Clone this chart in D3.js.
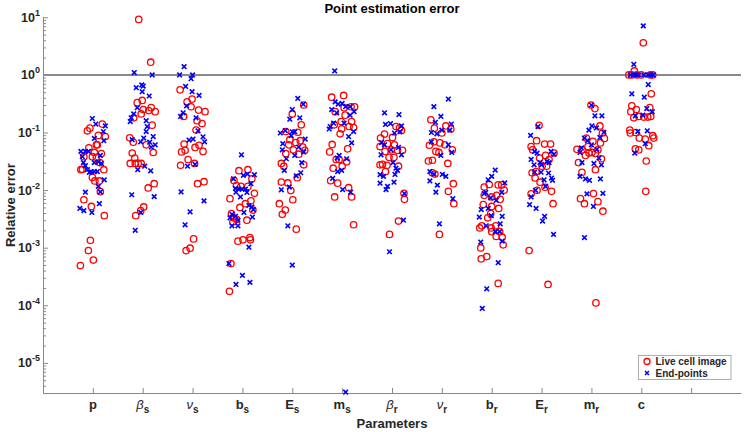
<!DOCTYPE html>
<html><head><meta charset="utf-8">
<script src="https://cdn.jsdelivr.net/npm/d3@7"></script>
<style>body{margin:0;background:#fff} svg{font-family:"Liberation Sans",Arial,sans-serif}</style>
</head><body><svg id="c" width="744" height="432"></svg>
<script>
// ---------- DATA ----------
const categories = ["p","βs","νs","bs","Es","ms","βr","νr","br","Er","mr","c",""];
const tickMain = ["p","β","ν","b","E","m","β","ν","b","E","m","c",""];
const tickSub  = ["","s","s","s","s","s","r","r","r","r","r","",""];
const yMajorTicks = [1e-5,1e-4,1e-3,1e-2,1e-1,1e0,1e1];
const yTickExp = ["-5","-4","-3","-2","-1","0","1"];
const refLine = 1;
const seriesNames = ["Live cell image","End-points"];
// each category: [jitter (category units), relative error]
const liveCell = [
 [[-0.06,0.119],[-0.11,0.107],[0.19,0.14],[0.25,0.085],[0.11,0.089],[-0.08,0.054],[0.07,0.061],[0.09,0.061],[0.17,0.043],[0.03,0.045],[-0.18,0.038],[-0.01,0.038],[0.07,0.037],[0.14,0.030],[-0.24,0.0226],[-0.21,0.023],[0.22,0.0226],[-0.01,0.0166],[0.04,0.0144],[0.13,0.0144],[0.15,0.0094],[-0.18,0.0068],[-0.03,0.0052],[0.23,0.0036],[-0.05,0.00134],[-0.09,0.00089],[0.01,0.00061],[-0.25,0.00049]],
 [[-0.08,9.2],[0.16,1.66],[-0.11,0.33],[-0.01,0.36],[0.01,0.25],[0.17,0.27],[0.25,0.23],[0.12,0.24],[-0.03,0.21],[-0.18,0.18],[0.19,0.134],[-0.26,0.081],[-0.19,0.068],[0.07,0.061],[-0.21,0.044],[-0.16,0.036],[-0.25,0.029],[-0.15,0.029],[-0.09,0.029],[-0.03,0.029],[0.21,0.045],[0.23,0.0129],[0.11,0.0109],[0.02,0.0051],[-0.04,0.0044],[-0.14,0.0036]],
 [[-0.25,0.55],[-0.11,0.34],[-0.01,0.38],[-0.03,0.28],[0.12,0.245],[0.25,0.23],[-0.18,0.19],[0.09,0.16],[0.19,0.143],[0.07,0.11],[-0.17,0.063],[-0.22,0.046],[-0.15,0.049],[0.05,0.055],[0.13,0.06],[0.21,0.047],[-0.09,0.034],[0.04,0.029],[-0.24,0.027],[0.1,0.0129],[0.23,0.014],[0.02,0.00142],[-0.05,0.00098],[-0.13,0.00089]],
 [[-0.07,0.0217],[0.11,0.0226],[0.19,0.0157],[-0.17,0.0147],[-0.12,0.012],[-0.03,0.0116],[0.11,0.0116],[-0.25,0.0071],[0.24,0.0088],[0.17,0.0065],[-0.05,0.005],[0.06,0.0058],[0.21,0.0045],[-0.22,0.0039],[-0.17,0.0033],[-0.12,0.0031],[-0.19,0.0028],[0.09,0.003],[-0.09,0.0013],[0.01,0.00137],[0.15,0.0015],[0.16,0.00137],[-0.23,0.00053],[-0.26,0.000175]],
 [[0.23,0.30],[0,0.21],[0.18,0.136],[-0.13,0.104],[0.11,0.101],[-0.05,0.075],[0.07,0.067],[0.16,0.072],[-0.07,0.061],[0.21,0.056],[0.02,0.05],[0.25,0.049],[-0.13,0.043],[0.13,0.042],[-0.22,0.029],[-0.17,0.026],[0.23,0.0275],[0.1,0.0164],[-0.22,0.0138],[-0.09,0.0133],[-0.03,0.0098],[0.01,0.0068],[-0.26,0.0058],[-0.14,0.0045],[-0.2,0.0038],[0.08,0.0021]],
 [[0.03,0.44],[-0.21,0.41],[-0.14,0.23],[0.04,0.27],[0.18,0.28],[0.25,0.28],[0.06,0.2],[-0.02,0.155],[0.19,0.155],[0.23,0.122],[0.14,0.127],[-0.01,0.116],[-0.16,0.136],[-0.04,0.095],[-0.2,0.062],[0.11,0.052],[-0.25,0.046],[-0.12,0.034],[-0.06,0.034],[0.09,0.031],[0,0.026],[-0.18,0.024],[-0.23,0.0146],[-0.09,0.0132],[0.13,0.011],[0.19,0.0076],[-0.15,0.0076],[0.23,0.0025]],
 [[0.08,0.127],[0.15,0.119],[0.19,0.108],[-0.15,0.094],[-0.23,0.08],[0.01,0.082],[-0.09,0.064],[0.05,0.061],[-0.24,0.057],[-0.14,0.047],[-0.01,0.05],[0.11,0.049],[0.21,0.049],[-0.06,0.037],[0.04,0.037],[-0.24,0.0275],[-0.19,0.028],[-0.1,0.027],[-0.13,0.021],[0.13,0.026],[0.24,0.0088],[0.25,0.0069],[0.13,0.0029],[-0.05,0.0017]],
 [[-0.22,0.166],[-0.15,0.119],[0.08,0.13],[0.18,0.115],[0,0.098],[-0.25,0.06],[-0.16,0.069],[-0.04,0.066],[0.06,0.061],[0.21,0.05],[-0.12,0.047],[-0.06,0.045],[-0.27,0.032],[-0.19,0.033],[0.12,0.029],[-0.19,0.02],[-0.14,0.019],[0.23,0.0129],[0.13,0.0095],[0.24,0.0058],[-0.05,0.0017]],
 [[-0.05,0.0125],[0.13,0.0123],[0.2,0.0123],[0.25,0.01],[-0.15,0.0113],[-0.15,0.0081],[0,0.0076],[0.1,0.0081],[0.17,0.0069],[-0.17,0.0056],[0,0.0052],[0.14,0.0048],[-0.02,0.0039],[-0.08,0.0033],[-0.2,0.0024],[-0.24,0.0022],[-0.01,0.0022],[0.08,0.0024],[0,0.0019],[0.09,0.00157],[0.21,0.00152],[0.16,0.0019],[0.23,0.00112],[-0.22,0.00099],[-0.21,0.00064],[-0.1,0.0007],[0.13,0.00024]],
 [[-0.05,0.133],[-0.1,0.072],[0.06,0.063],[0.18,0.063],[-0.21,0.057],[-0.18,0.05],[0.25,0.044],[0.08,0.04],[-0.04,0.036],[0.15,0.034],[-0.19,0.02],[-0.11,0.021],[0.01,0.026],[0.1,0.026],[-0.13,0.0162],[-0.03,0.0137],[0.07,0.0112],[0.2,0.0095],[-0.21,0.0086],[-0.09,0.0099],[0.23,0.0058],[-0.25,0.00089],[0.13,0.00023]],
 [[-0.01,0.30],[0.07,0.26],[0.17,0.13],[0.22,0.098],[0.26,0.079],[-0.1,0.08],[-0.07,0.057],[0.03,0.07],[0.18,0.066],[-0.29,0.051],[-0.19,0.05],[-0.05,0.044],[0.01,0.045],[0.08,0.043],[0.13,0.05],[-0.12,0.04],[0.2,0.035],[-0.26,0.03],[0.08,0.0226],[-0.19,0.0204],[0.04,0.0087],[-0.22,0.0071],[-0.14,0.0058],[0.13,0.0063],[0.23,0.0043],[0.09,0.00011]],
 [[0.04,3.6],[-0.14,1.17],[-0.25,1.0],[-0.19,1.0],[-0.09,1.0],[0,1.0],[0.18,1.0],[0.23,1.0],[0.2,0.47],[-0.19,0.29],[-0.1,0.25],[0.17,0.27],[-0.21,0.23],[-0.15,0.18],[-0.05,0.19],[0.05,0.185],[0.13,0.185],[0.19,0.19],[-0.23,0.11],[-0.22,0.098],[-0.11,0.1],[-0.04,0.08],[0.08,0.077],[0.23,0.088],[0.25,0.08],[0.15,0.059],[-0.12,0.052],[-0.05,0.05],[0.1,0.032],[0.09,0.0095]]
];
const endPoints = [
 [[-0.01,0.175],[0.06,0.14],[0.25,0.13],[0.21,0.104],[0.03,0.079],[0.22,0.072],[-0.24,0.047],[-0.15,0.047],[-0.09,0.047],[-0.21,0.038],[0.15,0.040],[-0.19,0.030],[0.11,0.031],[0.03,0.030],[0.17,0.029],[-0.15,0.0265],[-0.11,0.0226],[-0.07,0.0203],[-0.03,0.0207],[0.03,0.021],[0.09,0.021],[0.23,0.0151],[0.11,0.0116],[0.15,0.0093],[-0.15,0.0092],[0.13,0.0058],[-0.26,0.0048],[-0.18,0.0044],[-0.02,0.0041]],
 [[-0.17,1.1],[0.19,1.0],[-0.02,0.67],[0.01,0.64],[-0.13,0.60],[-0.01,0.51],[0.13,0.43],[-0.11,0.27],[-0.18,0.21],[-0.23,0.18],[-0.25,0.155],[0.07,0.16],[0.09,0.127],[0.07,0.104],[-0.21,0.075],[0.02,0.08],[0.21,0.085],[-0.04,0.069],[0.14,0.068],[0.25,0.061],[0.17,0.056],[0.04,0.026],[-0.1,0.0226],[0.16,0.0216],[0.23,0.0077],[-0.22,0.0083],[-0.04,0.0041],[-0.15,0.0020]],
 [[-0.17,1.39],[-0.26,1.0],[0,1.0],[-0.03,0.86],[-0.14,0.63],[-0.01,0.51],[0.13,0.44],[-0.12,0.29],[-0.19,0.22],[-0.24,0.19],[0.07,0.18],[0.11,0.107],[-0.07,0.074],[0.01,0.077],[0.21,0.084],[0.24,0.069],[-0.1,0.026],[0.05,0.028],[-0.23,0.0093],[0.23,0.0065],[-0.05,0.0042],[-0.15,0.0025]],
 [[-0.02,0.041],[0.24,0.0185],[0.1,0.019],[0.02,0.018],[-0.18,0.0157],[0.17,0.0129],[-0.14,0.0107],[-0.07,0.0104],[-0.01,0.0104],[0.06,0.0104],[0.09,0.0091],[-0.13,0.0092],[-0.04,0.0076],[0.13,0.0054],[0.19,0.0051],[0.22,0.0046],[0.2,0.0034],[-0.21,0.0038],[-0.14,0.0035],[-0.09,0.003],[-0.25,0.0033],[-0.21,0.0024],[-0.09,0.0024],[0.03,0.0041],[0.13,0.00102],[-0.27,0.00053],[0,0.00033],[-0.13,0.00023],[0.15,0.00025]],
 [[0.11,0.39],[0.22,0.31],[0,0.25],[-0.05,0.17],[0.15,0.18],[-0.24,0.098],[-0.14,0.108],[0,0.103],[0.05,0.103],[-0.02,0.088],[0.26,0.077],[-0.19,0.064],[0.13,0.056],[-0.2,0.05],[0.23,0.046],[0.05,0.04],[-0.12,0.035],[0.19,0.03],[-0.16,0.022],[0.17,0.02],[0.08,0.0177],[-0.22,0.0101],[-0.06,0.0113],[-0.09,0.0024],[0,0.0005]],
 [[-0.15,1.17],[-0.14,0.34],[-0.08,0.31],[0,0.32],[0.07,0.28],[0.16,0.28],[0.24,0.23],[-0.21,0.25],[-0.11,0.22],[0.16,0.2],[-0.17,0.145],[-0.26,0.115],[-0.24,0.127],[0.04,0.145],[0.23,0.104],[0.13,0.085],[0.19,0.066],[-0.06,0.04],[-0.1,0.036],[0.09,0.035],[-0.01,0.022],[-0.09,0.021],[-0.19,0.016],[0.01,0.0102],[0.17,0.0092],[0.07,3.1e-6]],
 [[-0.15,0.22],[0.14,0.205],[-0.13,0.138],[-0.03,0.143],[0.19,0.13],[0.05,0.098],[0.16,0.104],[-0.21,0.067],[-0.15,0.061],[0.13,0.055],[-0.02,0.05],[-0.22,0.041],[0.19,0.041],[0.02,0.03],[0.08,0.024],[0.11,0.022],[-0.24,0.0185],[-0.17,0.0173],[0.06,0.0187],[-0.24,0.0132],[0.04,0.0137],[-0.09,0.0116],[-0.12,0.0102],[0.25,0.0087],[0.23,0.003],[-0.05,0.00085]],
 [[0.13,0.38],[-0.16,0.28],[-0.02,0.19],[-0.13,0.15],[0.19,0.14],[-0.21,0.1],[-0.1,0.095],[0,0.11],[0.16,0.11],[-0.21,0.069],[0.13,0.061],[0.2,0.045],[-0.02,0.04],[-0.24,0.021],[-0.16,0.019],[0.01,0.0187],[0.08,0.0173],[-0.24,0.0144],[-0.09,0.0122],[-0.12,0.0092],[0.22,0.0071],[-0.05,0.0026]],
 [[0.07,0.0223],[0,0.0173],[-0.07,0.0151],[0.26,0.0133],[0.2,0.0091],[-0.12,0.0091],[-0.15,0.0087],[-0.02,0.0073],[0.09,0.0066],[-0.21,0.0046],[-0.07,0.0048],[-0.25,0.0034],[0.21,0.0035],[-0.01,0.0036],[-0.11,0.0024],[0.17,0.0026],[0.07,0.0019],[0.16,0.0019],[0.21,0.0013],[-0.22,0.00125],[0.13,0.00055],[-0.1,0.000193],[-0.19,0.000088]],
 [[-0.22,0.089],[-0.07,0.127],[-0.14,0.047],[-0.09,0.044],[0.19,0.047],[0.25,0.042],[-0.21,0.034],[-0.03,0.03],[0.15,0.03],[-0.15,0.0275],[0,0.0275],[0.11,0.0315],[-0.14,0.0204],[-0.01,0.0204],[0.14,0.0198],[0.2,0.0162],[0.22,0.0148],[0.05,0.0151],[0.08,0.0116],[-0.12,0.0099],[-0.21,0.0076],[-0.24,0.0056],[-0.11,0.0048],[0.06,0.0035],[0.02,0.0029],[0.24,0.0017]],
 [[0,0.30],[0.07,0.195],[0.21,0.195],[0.01,0.13],[0.1,0.12],[-0.05,0.11],[0.25,0.101],[0.17,0.082],[-0.14,0.08],[-0.08,0.072],[0,0.061],[-0.2,0.054],[0.11,0.051],[-0.23,0.045],[0.15,0.036],[-0.19,0.03],[0.05,0.029],[0.2,0.0275],[-0.23,0.0173],[-0.12,0.0156],[-0.04,0.0148],[0.18,0.0156],[-0.09,0.0086],[0.23,0.0088],[0.04,0.0052],[-0.14,0.0015]],
 [[0.04,7.1],[-0.15,1.53],[-0.22,1.0],[-0.15,1.0],[-0.11,1.0],[-0.06,1.0],[0.05,1.0],[0.14,1.0],[0.19,1.0],[0.24,1.0],[0.14,0.68],[-0.19,0.47],[0.06,0.41],[0.11,0.26],[0.22,0.23],[-0.12,0.195],[0.03,0.2],[-0.07,0.104],[0.12,0.107],[0.08,0.064],[-0.13,0.044]]
];

// ---------- CHART ----------
const svg = d3.select("#c");
const M = {left:43, right:741, top:17.3, bottom:393};
const axisCol = "#8a8a8a", textCol = "#262626";
const x = d3.scaleLinear().domain([0,14]).range([M.left, M.right]);
const y = d3.scaleLog().domain([3e-6,10]).range([M.bottom, M.top]);

// axes
const xAxis = d3.axisBottom(x).tickValues(d3.range(1, categories.length+1)).tickSizeInner(-5).tickSizeOuter(0).tickFormat("");
const gx = svg.append("g").attr("transform",`translate(0,${M.bottom})`).call(xAxis);
gx.select(".domain").attr("stroke",axisCol);
gx.selectAll(".tick line").attr("stroke",axisCol);

const minor = [];
for (let e=-6; e<=1; e++) for (let m=2; m<=9; m++){ const v=m*Math.pow(10,e); if(v>=3e-6 && v<=10) minor.push(v); }
const gyMinor = svg.append("g").attr("transform",`translate(${M.left},0)`)
  .call(d3.axisLeft(y).tickValues(minor).tickSizeInner(-3).tickSizeOuter(0).tickFormat(""));
gyMinor.select(".domain").remove();
gyMinor.selectAll(".tick line").attr("stroke",axisCol);
const gy = svg.append("g").attr("transform",`translate(${M.left},0)`)
  .call(d3.axisLeft(y).tickValues(yMajorTicks).tickSizeInner(-5).tickSizeOuter(0).tickFormat(""));
gy.select(".domain").attr("stroke",axisCol).attr("d",`M0.5,${M.top}V${M.bottom}`);
gy.selectAll(".tick line").attr("stroke",axisCol);

// y tick labels
yMajorTicks.forEach((v,i)=>{
  const t = svg.append("text").attr("x",M.left-3).attr("y",y(v)+4.5).attr("text-anchor","end")
    .attr("font-size",12.5).attr("font-weight","bold").attr("fill",textCol);
  t.append("tspan").text("10");
  t.append("tspan").attr("dy",-6).attr("font-size",9).text(yTickExp[i]);
});

// x tick labels
tickMain.forEach((m,i)=>{
  if(!m) return;
  const greek = /[βν]/.test(m);
  const t = svg.append("text").attr("x",x(i+1)).attr("y",409).attr("text-anchor","middle")
    .attr("font-size",13).attr("fill",textCol);
  t.append("tspan").attr("font-weight",greek?"normal":"bold").attr("font-style",greek?"italic":"normal").text(m);
  if(tickSub[i]) t.append("tspan").attr("dy",4).attr("font-size",10).attr("font-weight","bold").text(tickSub[i]);
});

// reference line at 1
svg.append("line").attr("x1",M.left).attr("x2",M.right).attr("y1",y(refLine)).attr("y2",y(refLine))
  .attr("stroke","#8a8a8a").attr("stroke-width",2);

// markers
const cross = "M-2.3,-2.3L2.3,2.3M-2.3,2.3L2.3,-2.3";
const gRed = svg.append("g"), gBlue = svg.append("g");
liveCell.forEach((arr,ci)=>{
  gRed.selectAll(null).data(arr).enter().append("circle")
    .attr("cx",d=>x(ci+1+d[0])).attr("cy",d=>y(d[1])).attr("r",3.2)
    .attr("fill","none").attr("stroke","#ff0000").attr("stroke-width",1.3);
});
endPoints.forEach((arr,ci)=>{
  gBlue.selectAll(null).data(arr).enter().append("path")
    .attr("transform",d=>`translate(${x(ci+1+d[0])},${y(d[1])})`).attr("d",cross)
    .attr("fill","none").attr("stroke","#0000ff").attr("stroke-width",1.6);
});

// title and axis labels
svg.append("text").attr("x",(M.left+M.right)/2).attr("y",13).attr("text-anchor","middle")
  .attr("font-size",13).attr("font-weight","bold").attr("fill","#000").text("Point estimation error");
svg.append("text").attr("x",(M.left+M.right)/2).attr("y",428).attr("text-anchor","middle")
  .attr("font-size",13).attr("font-weight","bold").attr("fill",textCol).text("Parameters");
svg.append("text").attr("transform",`translate(15,${(M.top+M.bottom)/2}) rotate(-90)`).attr("text-anchor","middle")
  .attr("font-size",13).attr("font-weight","bold").attr("fill",textCol).text("Relative error");

// legend
const lg = svg.append("g").attr("transform","translate(638.5,355.5)");
lg.append("rect").attr("width",92.5).attr("height",24).attr("fill","#fff").attr("stroke","#9a9a9a").attr("stroke-width",0.8);
lg.append("circle").attr("cx",8.5).attr("cy",6).attr("r",3).attr("fill","none").attr("stroke","#ff0000").attr("stroke-width",1.3);
lg.append("path").attr("transform","translate(8.5,17.5)").attr("d","M-2,-2L2,2M-2,2L2,-2").attr("stroke","#0000ff").attr("stroke-width",1.5);
lg.append("text").attr("x",17).attr("y",9.5).attr("font-size",10).attr("font-weight","bold").attr("fill",textCol).text(seriesNames[0]);
lg.append("text").attr("x",17).attr("y",21).attr("font-size",10).attr("font-weight","bold").attr("fill",textCol).text(seriesNames[1]);
</script></body></html>
